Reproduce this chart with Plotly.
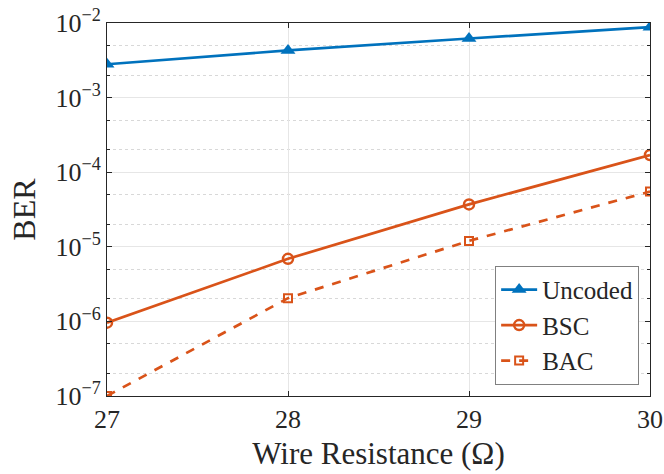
import plotly.graph_objects as go

# Wire resistance (Ohm) vs BER
resistance = [27, 28, 29, 30]
ber_uncoded = [2.8e-3, 4.3e-3, 6.2e-3, 8.8e-3]
ber_bsc = [9.6e-7, 6.9e-6, 3.7e-5, 1.7e-4]
ber_bac = [1.0e-7, 2.05e-6, 1.2e-5, 5.5e-5]
decades = [1e-7, 1e-6, 1e-5, 1e-4, 1e-3, 1e-2]
decade_labels = ["10<sup>−7</sup>", "10<sup>−6</sup>", "10<sup>−5</sup>",
                 "10<sup>−4</sup>", "10<sup>−3</sup>", "10<sup>−2</sup>"]

blue = "#0072BD"
orange = "#D95319"
axcol = "#262626"
font = "Liberation Serif"

fig = go.Figure()
fig.add_trace(go.Scatter(x=resistance, y=ber_uncoded, name="Uncoded",
                         mode="lines+markers",
                         line=dict(color=blue, width=2.7),
                         marker=dict(symbol="triangle-up", size=13, color=blue)))
fig.add_trace(go.Scatter(x=resistance, y=ber_bsc, name="BSC",
                         mode="lines+markers",
                         line=dict(color=orange, width=2.7),
                         marker=dict(symbol="circle-open", size=10, color=orange,
                                     line=dict(width=2.5))))
fig.add_trace(go.Scatter(x=resistance, y=ber_bac, name="BAC",
                         mode="lines+markers",
                         line=dict(color=orange, width=2.7, dash="dash"),
                         marker=dict(symbol="square-open", size=8, color=orange,
                                     line=dict(width=2))))

fig.update_layout(
    width=664, height=474,
    margin=dict(l=107, r=14, t=23, b=78),
    plot_bgcolor="white", paper_bgcolor="white",
    font=dict(family=font, color=axcol, size=26),
    showlegend=True,
    legend=dict(x=0.98, y=0.03, xanchor="right", yanchor="bottom",
                bgcolor="white", bordercolor="#808080", borderwidth=1,
                font=dict(size=25), tracegroupgap=0, itemwidth=36),
)

fig.update_xaxes(
    range=[27, 30], tickvals=resistance, ticks="inside", ticklen=5,
    tickcolor=axcol, showline=True, linecolor=axcol, linewidth=1, mirror="ticks",
    showgrid=True, gridcolor="#e6e6e6", gridwidth=1, zeroline=False,
    tickfont=dict(size=26), automargin=False, ticklabeloverflow="allow",
    title=dict(text="Wire Resistance (Ω)", font=dict(size=31), standoff=9),
)
fig.update_yaxes(
    type="log", range=[-7.0005, -1.9995],
    tickvals=decades, ticktext=decade_labels,
    ticks="inside", ticklen=5, tickcolor=axcol,
    showline=True, linecolor=axcol, linewidth=1, mirror="ticks",
    showgrid=True, gridcolor="#e6e6e6", gridwidth=1, zeroline=False,
    tickfont=dict(size=26), automargin=False, ticklabeloverflow="allow",
    minor=dict(ticks="inside", ticklen=3, tickcolor=axcol, showgrid=True,
               gridcolor="#d8d8d8", griddash="dot", gridwidth=1),
    title=dict(text="BER", font=dict(size=32), standoff=10),
)

fig.write_html("out.html",
               config={"displayModeBar": False},
               post_script="document.body.style.margin='0';"
                           "document.body.style.overflow='hidden';")
